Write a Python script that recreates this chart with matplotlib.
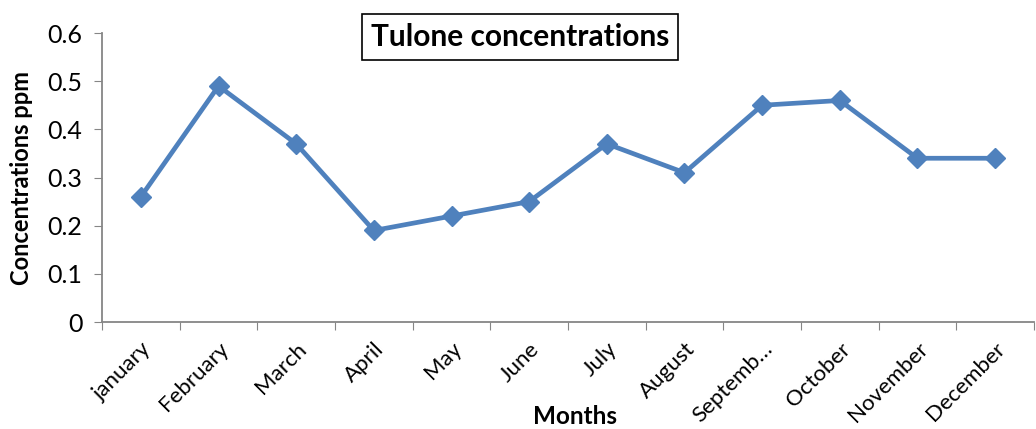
import numpy as np
import matplotlib.pyplot as plt

plt.rcParams['font.family'] = ['Lato', 'DejaVu Sans']

# data
months = ["january", "February", "March", "April", "May", "June",
          "July", "August", "Septemb\u2026", "October", "November", "December"]
concentrations = [0.26, 0.49, 0.37, 0.19, 0.22, 0.25,
                  0.37, 0.31, 0.45, 0.46, 0.34, 0.34]
y_ticks = [0, 0.1, 0.2, 0.3, 0.4, 0.5, 0.6]
y_tick_labels = ["0", "0.1", "0.2", "0.3", "0.4", "0.5", "0.6"]

fig = plt.figure(figsize=(10.36, 4.29), dpi=100)
ax = fig.add_axes([0.0985, 0.2494, 0.8995, 0.6736])

x = np.arange(len(months))
ax.plot(x, concentrations, color='#4F81BD', linewidth=3.4,
        marker='D', markersize=10, markeredgecolor='#4F81BD')

ax.set_xlim(-0.5, len(months) - 0.5)
ax.set_ylim(0, 0.6)
ax.set_yticks(y_ticks)
ax.set_yticklabels(y_tick_labels, fontsize=18)

# ticks on category boundaries, labels at category centres
ax.set_xticks(np.arange(-0.5, len(months), 1.0))
ax.set_xticklabels([])
ax.set_xticks(x, minor=True)
ax.set_xticklabels(months, minor=True, rotation=45, ha='right',
                   rotation_mode='anchor', fontsize=16)
ax.tick_params(axis='x', which='minor', length=0, pad=12)
ax.tick_params(axis='x', which='major', length=6, color='#868686', direction='out')
ax.tick_params(axis='y', length=6, color='#868686', direction='out', pad=8)

for side in ['top', 'right']:
    ax.spines[side].set_visible(False)
for side in ['left', 'bottom']:
    ax.spines[side].set_color('#868686')
    ax.spines[side].set_linewidth(1.3)

fig.text(0.021, 0.585, "Concentrations ppm", fontsize=17, fontweight='bold',
         rotation=90, ha='center', va='center')
fig.text(0.555, 0.028, "Months", fontsize=17.5, fontweight='bold',
         ha='center', va='center')

fig.text(0.502, 0.9138, "Tulone concentrations", fontsize=21.5, fontweight='bold',
         ha='center', va='center',
         bbox=dict(boxstyle='square,pad=0.3', facecolor='white',
                   edgecolor='black', linewidth=1.2))

fig.savefig("out.png", dpi=100)
